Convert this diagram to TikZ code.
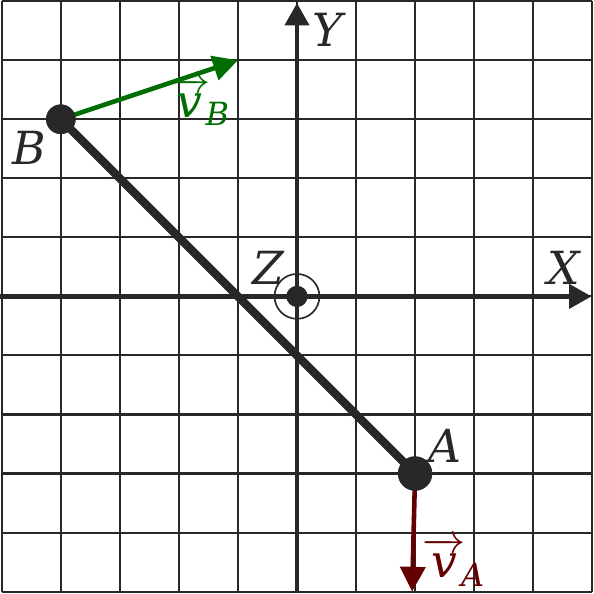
\documentclass[tikz,border=0pt]{standalone}
\usepackage{amsmath}
\usepackage{fontspec}
\setmainfont{DejaVu Serif}
\usetikzlibrary{arrows.meta}
\definecolor{ink}{RGB}{40,40,40}
\definecolor{vbgreen}{RGB}{0,110,0}
\definecolor{vared}{RGB}{100,0,0}
\newcommand{\itx}[1]{\text{\itshape #1}}
\newcommand{\vel}[1]{$\overrightarrow{\itx{v}}_{\!\itx{#1}}$}

\begin{document}
\begin{tikzpicture}[
    lbl/.style={font=\fontsize{22}{26}\selectfont\itshape, text=ink, inner sep=0pt},
    dot/.style={circle, fill=ink, inner sep=0pt, minimum size=0.54cm},
    axis/.style={ink, line width=2.4pt, -{Triangle[length=0.38cm,width=0.4cm]}},
    vec/.style={line width=2.2pt, -{Triangle[length=0.42cm,width=0.42cm]}}]
  \useasboundingbox (-5.03,-5.03) rectangle (5.03,5.02);
  \draw [ink, line width=1pt] (-5,-5) grid (5,5);

  % axes
  \coordinate (xl) at (-5.03,0);
  \coordinate (xr) at (4.99,0);
  \coordinate (yb) at (0,-5.03);
  \coordinate (yt) at (0,4.97);
  \draw [axis] (xl) -- (xr);
  \draw [axis] (yb) -- (yt);

  % the bar and its ends
  \node [dot, minimum size=0.5cm] (B) at (-4,3) {};
  \node [dot, minimum size=0.58cm] (A) at (2,-3) {};
  \coordinate (vBtip) at (-1,4);
  \coordinate (vAtip) at (1.95,-5.0);
  \draw [vec, vbgreen] (B.center) -- (vBtip);
  \draw [vec, vared] (A.center) -- (vAtip);
  \draw [ink, line width=4pt] (B.center) -- (A.center);
  \node [dot, minimum size=0.5cm] at (B) {};
  \node [dot, minimum size=0.58cm] at (A) {};

  % rotation axis
  \node [circle, fill=ink, inner sep=0pt, minimum size=0.36cm] (Z) at (0,0) {};
  \node [circle, draw=ink, line width=0.8pt, inner sep=0pt, minimum size=0.76cm] (Zring) at (Z) {};

  % labels
  \node [lbl] (Blbl) at (-4.53,2.51) {B};
  \node [lbl] (Albl) at (2.51,-2.53) {A};
  \node [lbl] (Zlbl) at (-0.49,0.49) {Z};
  \node [lbl] (Ylbl) at (0.51,4.51) {Y};
  \node [lbl] (Xlbl) at (4.51,0.49) {X};
  \node [lbl, text=vbgreen] (vBlbl) at (-1.66,3.3) {\vel{B}};
  \node [lbl, text=vared] (vAlbl) at (2.66,-4.5) {\vel{A}};
\end{tikzpicture}
\end{document}
